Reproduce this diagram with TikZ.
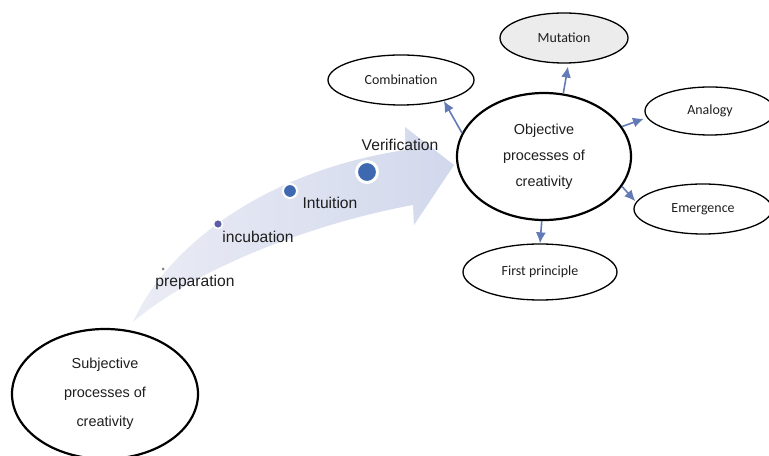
\documentclass[tikz,border=0pt]{standalone}
\usepackage{fontspec}
\setmainfont{Liberation Sans}
\newfontfamily\calibrifont{Carlito}
\usepackage{tikz}
\usetikzlibrary{shapes.geometric, arrows, arrows.meta}
\definecolor{linkblue}{RGB}{98,122,182}
\definecolor{flowlight}{RGB}{234,236,245}
\definecolor{flowdark}{RGB}{210,216,236}
\definecolor{dotblue}{RGB}{62,104,176}
\definecolor{dotviolet}{RGB}{92,94,168}
\definecolor{inktext}{RGB}{30,30,30}
\tikzstyle{bigoval} = [draw, ellipse, line width=2.2bp, inner sep=0pt, align=center, text=inktext]
\tikzstyle{oval} = [draw, ellipse, line width=1.3bp, inner sep=0pt, text=inktext, font=\calibrifont\fontsize{14}{16}\selectfont]
\tikzstyle{branch} = [line width=1.6bp, draw=linkblue, -{Latex[length=11bp,width=10bp]}]
\tikzstyle{stage} = [inner sep=0pt, text=inktext, font=\fontsize{15.7}{18}\selectfont]
\tikzstyle{dot} = [circle, fill=dotblue, draw=white, inner sep=0pt]

\begin{document}
\begin{tikzpicture}[x=1bp, y=-1bp]
            \useasboundingbox (0,0) rectangle (769,456);

            % The curved flow arrow behind the stages
            \shade[left color=flowlight, right color=flowdark]
                (133,322) .. controls (165,250) and (260,172) .. (405,150)
                -- (405,127) -- (454,165) -- (414,225) -- (413,205)
                .. controls (320,222) and (200,265) .. (133,322) -- cycle;

            % The two main ovals
            \node[bigoval, minimum width=186bp, minimum height=130bp,
                font=\fontsize{14.5}{29}\selectfont] (subj) at (105,394)
                {Subjective\\processes of\\creativity};
            \node[bigoval, minimum width=174bp, minimum height=127bp,
                font=\fontsize{14.5}{26}\selectfont] (obj) at (544,156.5)
                {Objective\\processes of\\creativity};

            % The five outcomes of the objective processes
            \node[oval, minimum width=146bp, minimum height=50bp] (comb) at (401,80) {Combination};
            \node[oval, fill=gray!15, minimum width=128bp, minimum height=50bp] (mut) at (564,38) {Mutation};
            \node[oval, minimum width=130bp, minimum height=48bp] (ana) at (710,111) {Analogy};
            \node[oval, minimum width=138bp, minimum height=50bp] (emer) at (703,209) {Emergence};
            \node[oval, minimum width=154bp, minimum height=56bp] (first) at (540,272) {First principle};

            % Draw arrows between the nodes
            \draw[branch] (obj.164) -- (comb.-26);
            \draw[branch, shorten >=3bp] (obj.73) -- (mut.-80);
            \draw[branch, shorten >=3bp] (obj.21) -- (ana.186);
            \draw[branch, shorten >=1bp] (obj.-21) -- (emer.174);
            \draw[branch] (obj.-92) -- (first.north);

            % Stages along the flow
            \node[circle, fill=gray, inner sep=0pt, minimum size=3bp] (prepdot) at (163,269) {};
            \node[dot, fill=dotviolet, line width=1.5bp, minimum size=9bp] (incdot) at (218,224) {};
            \node[dot, line width=2bp, minimum size=14bp] (intdot) at (290,191) {};
            \node[dot, line width=3bp, minimum size=21bp] (verdot) at (367,172) {};

            \node[stage] (prep) at (195,282) {preparation};
            \node[stage] (inc) at (258,237) {incubation};
            \node[stage] (intu) at (330,203) {Intuition};
            \node[stage] (ver) at (400,145) {Verification};
        \end{tikzpicture}
\end{document}
